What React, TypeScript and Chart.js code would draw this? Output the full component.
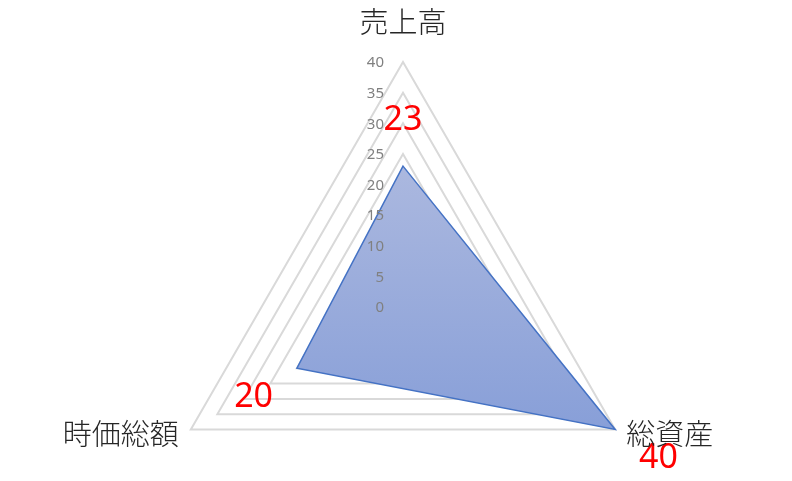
import { useEffect, useRef } from "react";
import { Chart, registerables } from "chart.js";

Chart.register(...registerables);

const categories = ["売上高", "総資産", "時価総額"];
const values = [23, 40, 20];
const tickValues = [0, 5, 10, 15, 20, 25, 30, 35, 40];

const JP_FONT = '"Noto Sans CJK JP", "Noto Sans", sans-serif';
const NUM_FONT = '"Noto Sans", "Open Sans", sans-serif';

// Excel-style overlays: tick labels above the fill, red data labels, axis titles
const overlayPlugin = {
  id: "overlay",
  afterDatasetsDraw(chart: Chart) {
    const scale: any = chart.scales.r;
    const ctx = chart.ctx;
    ctx.save();

    // tick labels, right aligned left of the vertical axis
    ctx.font = `15px ${NUM_FONT}`;
    ctx.fillStyle = "#808080";
    ctx.textAlign = "right";
    ctx.textBaseline = "middle";
    tickValues.forEach((v) => {
      const d = scale.getDistanceFromCenterForValue(v);
      ctx.fillText(String(v), scale.xCenter - 19, scale.yCenter - d + 1);
    });

    // data labels, pushed outwards along each axis
    ctx.font = `34px ${NUM_FONT}`;
    ctx.fillStyle = "#ff0000";
    ctx.textAlign = "center";
    ctx.textBaseline = "middle";
    values.forEach((v, i) => {
      const d = scale.getDistanceFromCenterForValue(v);
      const p = scale.getPointPosition(i, d + 50);
      ctx.fillText(String(v), p.x, p.y + 4);
    });

    // category labels
    ctx.font = `300 29px ${JP_FONT}`;
    ctx.fillStyle = "#262626";
    ctx.textBaseline = "middle";
    categories.forEach((label, i) => {
      const p = scale.getPointPosition(i, scale.drawingArea);
      if (i === 0) {
        ctx.textAlign = "center";
        ctx.fillText(label, p.x, p.y - 40);
      } else if (i === 1) {
        ctx.textAlign = "left";
        ctx.fillText(label, p.x + 11, p.y + 4);
      } else {
        ctx.textAlign = "right";
        ctx.fillText(label, p.x - 12, p.y + 4);
      }
    });
    ctx.restore();
  },
};

export default function App() {
  const canvasRef = useRef<HTMLCanvasElement>(null);

  useEffect(() => {
    if (!canvasRef.current) return;

    const chart = new Chart(canvasRef.current, {
      type: "radar",
      data: {
        labels: categories,
        datasets: [
          {
            label: "系列1",
            data: values,
            borderColor: "#4472c4",
            borderWidth: 1.5,
            pointRadius: 0,
            fill: true,
            backgroundColor: (context: any) => {
              const c = context.chart;
              const scale: any = c.scales.r;
              if (!scale || !c.chartArea) return "#98aadb";
              const top = scale.getPointPosition(0, scale.getDistanceFromCenterForValue(23)).y;
              const bottom = scale.getPointPosition(1, scale.drawingArea).y;
              const g = c.ctx.createLinearGradient(0, top, 0, bottom);
              g.addColorStop(0, "#abb8df");
              g.addColorStop(1, "#889fd8");
              return g;
            },
          },
        ],
      },
      options: {
        animation: false,
        responsive: true,
        maintainAspectRatio: false,
        layout: {
          padding: { left: 14, right: 0, top: 62, bottom: 48 },
        },
        plugins: {
          legend: { display: false },
          tooltip: { enabled: false },
        },
        scales: {
          r: {
            min: 0,
            max: 40,
            ticks: { stepSize: 5, display: false },
            grid: { color: "#d9d9d9", lineWidth: 2 },
            angleLines: { display: false },
            pointLabels: { display: false },
          },
        },
      },
      plugins: [overlayPlugin],
    });

    return () => chart.destroy();
  }, []);

  return (
    <div
      style={{
        position: "fixed",
        left: 0,
        top: 0,
        width: 792,
        height: 481,
        overflow: "hidden",
        background: "#ffffff",
      }}
    >
      <div style={{ position: "relative", width: 792, height: 600 }}>
        <canvas ref={canvasRef} />
      </div>
    </div>
  );
}
